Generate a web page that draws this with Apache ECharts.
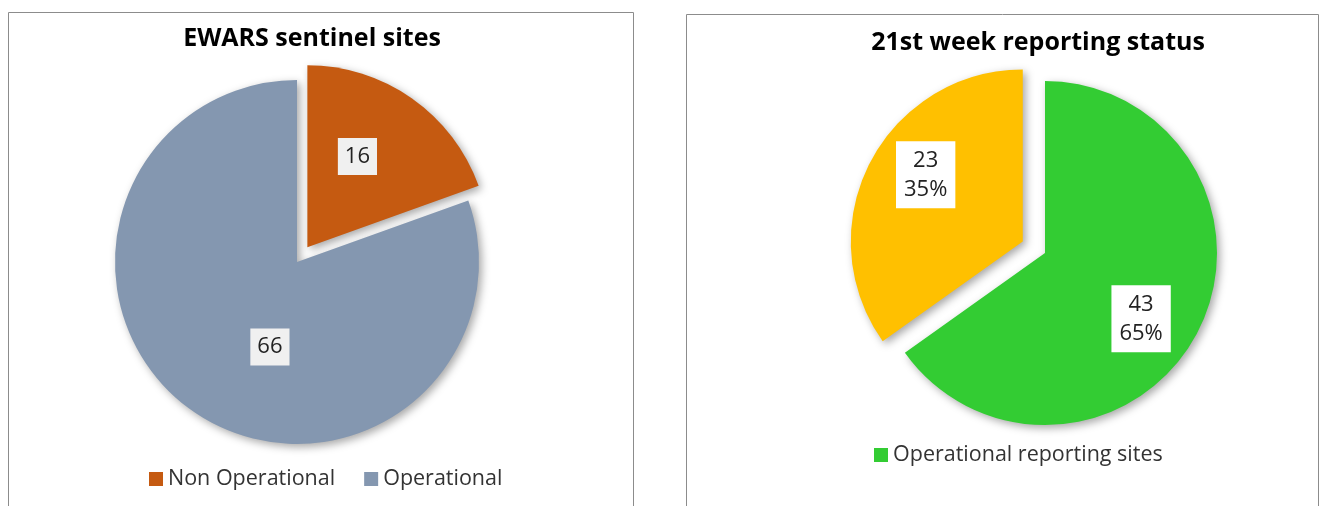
<!DOCTYPE html>
<html>
<head>
<meta charset="utf-8">
<script src="https://cdn.jsdelivr.net/npm/echarts@6/dist/echarts.min.js"></script>
<style>
    html, body {margin: 0; padding: 0; background: #fff;}
    #main {width: 1327px; height: 506px;}
</style>
</head>
<body>
<div id="main"></div>
<script>
    // EWARS sentinel sites
    var siteNames = ['Non Operational', 'Operational'];
    var siteValues = [16, 66];
    // 21st week reporting status
    var reportNames = ['Operational reporting sites', 'Non reporting sites'];
    var reportValues = [43, 23];
    var reportLegend = ['Operational reporting sites'];

    var FONT = '"Open Sans", "Noto Sans", sans-serif';
    var siteColors = ['#C55A11', '#8497B0'];
    var reportColors = ['#33CC33', '#FFC000'];
    // label nudges from the default 'inside' spot
    var siteLabelOffsets = [[-4, -14], [27, 8]];
    var reportLabelOffsets = [[17, 25], [-18, -26]];

    function buildData(names, values, colors, offsets, selectedIndex) {
        var list = [];
        for (var i = 0; i < names.length; i++) {
            list.push({
                name: names[i],
                value: values[i],
                selected: i === selectedIndex,
                itemStyle: {color: colors[i]},
                label: {offset: offsets[i]},
                select: {label: {offset: offsets[i]}}
            });
        }
        return list;
    }

    var sliceShadow = {
        borderWidth: 0,
        shadowBlur: 8,
        shadowOffsetX: 3,
        shadowOffsetY: 3,
        shadowColor: 'rgba(0,0,0,0.35)'
    };

    var myChart = echarts.init(document.getElementById('main'), null, {renderer: 'canvas'});
    var option = {
        animation: false,
        graphic: [
            {type: 'rect', shape: {x: 8.5, y: 12.5, width: 625, height: 520}, style: {fill: 'none', stroke: '#8c8c8c', lineWidth: 1}, silent: true},
            {type: 'rect', shape: {x: 686.5, y: 14.5, width: 632, height: 520}, style: {fill: 'none', stroke: '#8c8c8c', lineWidth: 1}, silent: true}
        ],
        title: [
            {
                text: 'EWARS sentinel sites',
                left: 307, top: 21, textAlign: 'center',
                textStyle: {fontFamily: FONT, fontSize: 25, fontWeight: 'bold', color: '#000'}
            },
            {
                text: '21st week reporting status',
                left: 1033, top: 25, textAlign: 'center',
                textStyle: {fontFamily: FONT, fontSize: 25, fontWeight: 'bold', color: '#000'}
            }
        ],
        legend: [
            {
                data: siteNames,
                left: 144, top: 463,
                itemWidth: 14, itemHeight: 14, itemGap: 29,
                icon: 'rect',
                selectedMode: false,
                textStyle: {fontFamily: FONT, fontSize: 21.5, color: '#333'}
            },
            {
                data: reportLegend,
                left: 869, top: 439,
                itemWidth: 14, itemHeight: 14,
                icon: 'rect',
                selectedMode: false,
                textStyle: {fontFamily: FONT, fontSize: 21.5, color: '#333'}
            }
        ],
        series: [
            {
                name: 'EWARS sentinel sites',
                type: 'pie',
                center: [297, 262],
                radius: [0, 182],
                startAngle: 90,
                clockwise: true,
                selectedMode: 'single',
                selectedOffset: 18,
                emphasis: {disabled: true},
                silent: true,
                itemStyle: sliceShadow,
                labelLine: {show: false},
                label: {
                    show: true,
                    position: 'inside',
                    formatter: '{c}',
                    fontFamily: FONT,
                    fontSize: 22,
                    color: '#222',
                    backgroundColor: '#F0F0F0',
                    padding: [9, 7, 6, 7]
                },
                data: buildData(siteNames, siteValues, siteColors, siteLabelOffsets, 0)
            },
            {
                name: '21st week reporting status',
                type: 'pie',
                center: [1045, 253],
                radius: [0, 172],
                startAngle: 90,
                clockwise: true,
                selectedMode: 'single',
                selectedOffset: 25,
                emphasis: {disabled: true},
                silent: true,
                itemStyle: sliceShadow,
                labelLine: {show: false},
                label: {
                    show: true,
                    position: 'inside',
                    formatter: function (p) {
                        return p.value + '\n' + Math.round(p.percent) + '%';
                    },
                    fontFamily: FONT,
                    fontSize: 22,
                    lineHeight: 29,
                    color: '#222',
                    backgroundColor: '#fff',
                    padding: [5, 8, 4, 8]
                },
                data: buildData(reportNames, reportValues, reportColors, reportLabelOffsets, 1)
            }
        ]
    };
    myChart.setOption(option);
</script>
</body>
</html>
